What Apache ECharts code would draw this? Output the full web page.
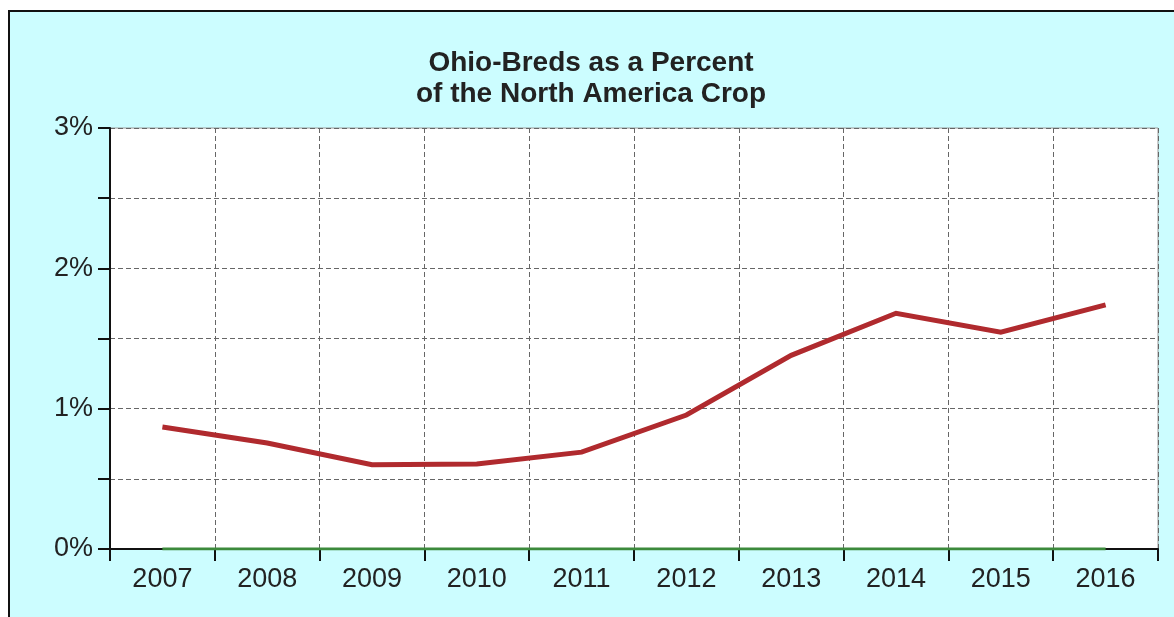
<!DOCTYPE html>
<html>
<head>
<meta charset="utf-8">
<script src="https://cdn.jsdelivr.net/npm/echarts@6/dist/echarts.min.js"></script>
<style>
html,body{margin:0;padding:0;background:#ffffff;}
#chart{width:1174px;height:617px;}
</style>
</head>
<body>
<div id="chart"></div>
<script>
var years = ['2007','2008','2009','2010','2011','2012','2013','2014','2015','2016'];
var ohioPercent = [0.87, 0.755, 0.60, 0.605, 0.69, 0.955, 1.38, 1.68, 1.545, 1.74];
var baseline = [0, 0, 0, 0, 0, 0, 0, 0, 0, 0];
var yTicks = [0, 1, 2, 3];

var FONT = '"Liberation Sans Narrow", "Arial Narrow", sans-serif';
var chart = echarts.init(document.getElementById('chart'), null, {renderer: 'canvas'});
var option = {
  backgroundColor: '#ffffff',
  animation: false,
  graphic: [{
    type: 'rect',
    z: -10,
    shape: {x: 9, y: 11, width: 1180, height: 620},
    style: {fill: '#ccfdff', stroke: '#111111', lineWidth: 2}
  }],
  title: {
    text: 'Ohio-Breds as a Percent\nof the North America Crop',
    left: 586,
    textAlign: 'center',
    top: 43,
    textStyle: {
      fontFamily: FONT,
      fontSize: 28,
      fontWeight: 'bold',
      color: '#222222',
      lineHeight: 31
    }
  },
  grid: {
    left: 110, right: 16, top: 128, bottom: 68,
    show: true, backgroundColor: '#ffffff', borderColor: '#9a9a9a', borderWidth: 1
  },
  xAxis: {
    type: 'category',
    data: years,
    boundaryGap: true,
    axisLine: {lineStyle: {color: '#111111', width: 2}},
    axisTick: {show: true, length: 12, lineStyle: {color: '#111111', width: 2}},
    axisLabel: {
      fontFamily: FONT,
      fontSize: 27, color: '#222222', margin: 17
    },
    splitLine: {show: true, lineStyle: {color: '#666666', type: [5, 3], width: 1}}
  },
  yAxis: {
    type: 'value',
    min: 0, max: 3, interval: 0.5,
    axisLine: {show: true, lineStyle: {color: '#111111', width: 2}},
    axisTick: {show: true, length: 12, lineStyle: {color: '#111111', width: 2}},
    axisLabel: {
      fontFamily: FONT,
      fontSize: 27, color: '#222222', margin: 17,
      formatter: function (v) {
        return yTicks.indexOf(v) >= 0 ? v + '%' : '';
      }
    },
    splitLine: {show: true, lineStyle: {color: '#666666', type: [5, 3], width: 1}}
  },
  series: [
    {
      type: 'line',
      data: baseline,
      symbol: 'none',
      lineStyle: {color: '#3c8a3c', width: 3},
      z: 3
    },
    {
      type: 'line',
      data: ohioPercent,
      symbol: 'none',
      lineStyle: {color: '#b02a2e', width: 5, cap: 'butt', join: 'miter'},
      z: 4
    }
  ]
};
chart.setOption(option);
</script>
</body>
</html>
